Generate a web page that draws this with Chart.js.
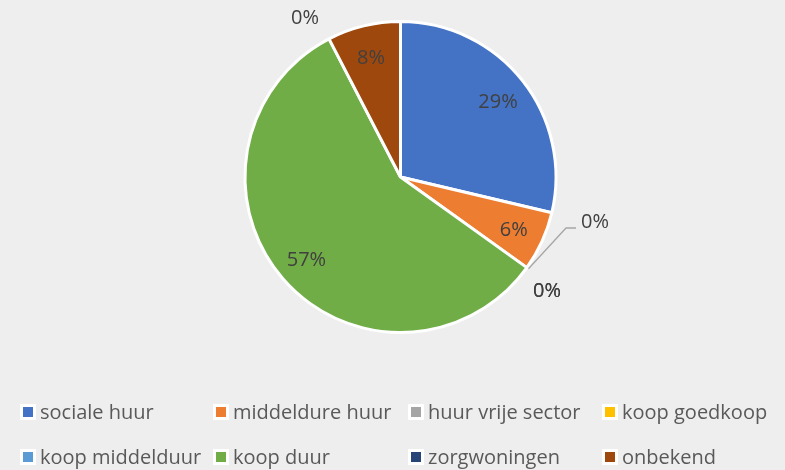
<!DOCTYPE html>
<html>
<head>
<meta charset="utf-8">
<script src="https://cdn.jsdelivr.net/npm/chart.js@4/dist/chart.umd.min.js"></script>
<style>
  html, body { margin: 0; padding: 0; background: #eeeeee; }
  #wrap { position: relative; width: 785px; height: 470px; }
  #legend { position: absolute; left: 0; top: 0; width: 785px; height: 470px; pointer-events: none;
            font-family: "Open Sans", sans-serif; font-size: 20px; color: #595959; }
  .item { position: absolute; display: flex; align-items: center; white-space: nowrap; }
  .box { width: 10px; height: 10px; border: 3px solid #ffffff; margin-right: 4px; }
</style>
</head>
<body>
<div id="wrap">
  <canvas id="mychart" width="785" height="470"></canvas>
  <div id="legend"></div>
</div>
<script>
// categories and shares (percent)
const categories = ['sociale huur', 'middeldure huur', 'huur vrije sector', 'koop goedkoop',
                    'koop middelduur', 'koop duur', 'zorgwoningen', 'onbekend'];
const shares = [28.7, 6.2, 0, 0, 0, 57.5, 0, 7.6];
const shownLabels = ['29%', '6%', '0%', '0%', '0%', '57%', '0%', '8%'];
const colors = ['#4472C4', '#ED7D31', '#A5A5A5', '#FFC000', '#5B9BD5', '#70AD47', '#264478', '#9E480E'];

// labels of the empty slices sit outside the pie
const outsideLabels = {
    2: { x: 595, y: 222, leader: true },
    3: { x: 547, y: 291 },
    4: { x: 547, y: 291 },
    6: { x: 305, y: 18 }
};

const pieLabels = {
    id: 'pieLabels',
    afterDatasetsDraw(chart) {
        const ctx = chart.ctx;
        const meta = chart.getDatasetMeta(0);
        ctx.save();
        ctx.font = '20px "Open Sans", sans-serif';
        ctx.fillStyle = '#404040';
        ctx.textAlign = 'center';
        ctx.textBaseline = 'middle';
        meta.data.forEach(function (arc, i) {
            const mid = (arc.startAngle + arc.endAngle) / 2;
            const out = outsideLabels[i];
            if (out) {
                if (out.leader) {
                    ctx.strokeStyle = '#a6a6a6';
                    ctx.lineWidth = 1.3;
                    ctx.beginPath();
                    ctx.moveTo(arc.x + Math.cos(mid) * (arc.outerRadius + 2), arc.y + Math.sin(mid) * (arc.outerRadius + 2));
                    ctx.lineTo(out.x - 29, out.y + 6);
                    ctx.lineTo(out.x - 19, out.y + 6);
                    ctx.stroke();
                }
                ctx.fillText(shownLabels[i], out.x, out.y);
            } else {
                const r = arc.outerRadius * 0.8;
                ctx.fillText(shownLabels[i], arc.x + Math.cos(mid) * r, arc.y + Math.sin(mid) * r + 2);
            }
        });
        ctx.restore();
    }
};

const ctx = document.getElementById('mychart').getContext('2d');
const myChart = new Chart(ctx, {
    type: 'pie',
    data: {
        labels: categories,
        datasets: [{
            data: shares,
            backgroundColor: colors,
            borderColor: '#ffffff',
            borderWidth: 3
        }]
    },
    options: {
        responsive: false,
        animation: false,
        layout: { padding: { top: 20, bottom: 136, left: 16, right: 0 } },
        plugins: {
            legend: { display: false },
            tooltip: { enabled: false }
        }
    },
    plugins: [pieLabels]
});

// legend in a 4 x 2 grid, like the original
const colX = [20, 213, 408, 602];
const rowY = [398, 443];
const legend = document.getElementById('legend');
categories.forEach(function (name, i) {
    const item = document.createElement('div');
    item.className = 'item';
    item.style.left = colX[i % 4] + 'px';
    item.style.top = rowY[Math.floor(i / 4)] + 'px';
    item.innerHTML = '<span class="box" style="background:' + colors[i] + '"></span><span>' + name + '</span>';
    legend.appendChild(item);
});
</script>
</body>
</html>
